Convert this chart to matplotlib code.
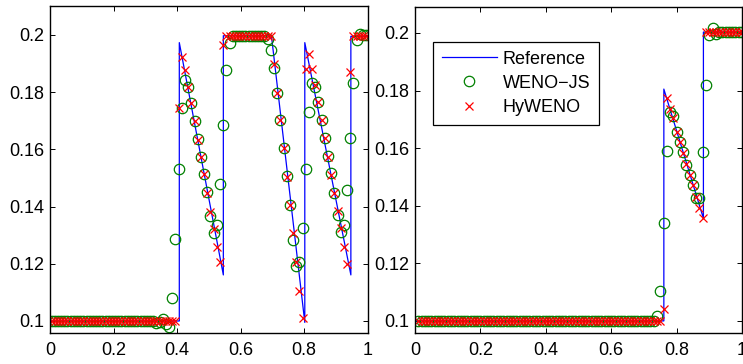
import numpy as np
import matplotlib
matplotlib.use('Agg')
import matplotlib.pyplot as plt

plt.rcParams['font.family'] = ['Liberation Sans', 'DejaVu Sans']
plt.rcParams['font.size'] = 13

# Painel esquerdo: pontos nas células x = 0.005 + 0.01 i
x_esq = 0.005 + 0.01 * np.arange(100)
ref_esq_x = [0, 0.407, 0.407, 0.5456, 0.5456, 0.697, 0.802, 0.802, 0.947, 0.947, 1.0]
ref_esq_y = [0.1, 0.1, 0.1973, 0.1161, 0.1997, 0.1997, 0.0995, 0.1973, 0.1161, 0.1995, 0.1995]

weno_esq = ([0.1] * 33 +
            [0.0994, 0.0997, 0.1006, 0.0988, 0.0978,
             0.1082, 0.1287, 0.1531, 0.1744, 0.1843, 0.1817, 0.1763, 0.1700, 0.1636,
             0.1574, 0.1514, 0.1450, 0.1367, 0.1307, 0.1336, 0.1479, 0.1685, 0.1878,
             0.1973] +
            [0.1997] * 11 +
            [0.1985, 0.1948, 0.1884, 0.1798, 0.1703, 0.1604, 0.1508, 0.1406, 0.1283,
             0.1192, 0.1205, 0.1324, 0.1530, 0.1732, 0.1831, 0.1817, 0.1767, 0.1703,
             0.1639, 0.1575, 0.1516, 0.1449, 0.1371, 0.1312, 0.1336, 0.1458, 0.1641,
             0.1833, 0.1983, 0.2002, 0.2, 0.2])

hy_esq = ([0.1] * 40 +
          [0.1744, 0.1924, 0.1878, 0.1819, 0.1763, 0.1700, 0.1633, 0.1574, 0.1513,
           0.1449, 0.1381, 0.1320, 0.1260, 0.1205, 0.1963] +
          [0.1997] * 15 +
          [0.1898, 0.1798, 0.1703, 0.1604, 0.1505, 0.1406, 0.1307, 0.1207, 0.1106,
           0.1009, 0.1880, 0.1933, 0.1880, 0.1825, 0.1767, 0.1703, 0.1639, 0.1574,
           0.1510, 0.1449, 0.1386, 0.1324, 0.1258, 0.1198, 0.1872] +
          [0.1997] * 5)

# Painel direito: pontos em x = 0.01 j
x_dir = 0.01 * np.arange(1, 101)
ref_dir_x = [0, 0.761, 0.761, 0.882, 0.882, 1.0]
ref_dir_y = [0.1, 0.1, 0.1805, 0.1356, 0.2003, 0.2003]

weno_dir = ([0.1] * 73 +
            [0.1017, 0.1104, 0.1341, 0.1591, 0.1727, 0.1713, 0.1657, 0.1620, 0.1585,
             0.1542, 0.1507, 0.1472, 0.1428, 0.1428, 0.1585, 0.1819, 0.1993, 0.2017,
             0.1995] +
            [0.2003] * 8)

hy_dir = ([0.1] * 75 +
          [0.1041, 0.1773, 0.1735, 0.1704, 0.1657, 0.1622, 0.1582, 0.1545, 0.1507,
           0.1472, 0.1429, 0.1393, 0.1357] +
          [0.2003] * 12)

fig = plt.figure(figsize=(7.43, 3.64), dpi=100)
ax1 = fig.add_axes([50 / 743, 1 - 333 / 364, 317.7 / 743, 327 / 364])
ax2 = fig.add_axes([415 / 743, 1 - 333 / 364, 327 / 743, 326 / 364])

verde = (0, 0.5, 0)
for ax, xr, yr, xp, yw, yh in [(ax1, ref_esq_x, ref_esq_y, x_esq, weno_esq, hy_esq),
                               (ax2, ref_dir_x, ref_dir_y, x_dir, weno_dir, hy_dir)]:
    ax.plot(xr, yr, '-', color='blue', lw=0.9, label='Reference')
    ax.plot(xp, yw, 'o', mfc='none', mec=verde, ms=7.5, mew=0.9, label='WENO\u2212JS')
    ax.plot(xp, yh, 'x', color='red', ms=5.5, mew=0.9, label='HyWENO')
    ax.set_xlim(0, 1)
    ax.set_xticks([0, 0.2, 0.4, 0.6, 0.8, 1])
    ax.set_xticklabels(['0', '0.2', '0.4', '0.6', '0.8', '1'])
    ax.set_yticks([0.1, 0.12, 0.14, 0.16, 0.18, 0.2])
    ax.set_yticklabels(['0.1', '0.12', '0.14', '0.16', '0.18', '0.2'])
    ax.tick_params(direction='in', top=True, right=True, length=3.5, width=0.7)
    ax.tick_params(axis='x', pad=6.5)
    ax.tick_params(axis='y', pad=4)
    for s in ax.spines.values():
        s.set_linewidth(1.0)

ax1.set_ylim(0.0958, 0.2101)
ax2.set_ylim(0.0958, 0.2090)

leg = ax2.legend(loc='upper left', bbox_to_anchor=(0.056, 0.894), borderaxespad=0,
                 fancybox=False, framealpha=1, edgecolor='black', numpoints=1,
                 handlelength=3.0, handletextpad=0.35, borderpad=0.5, labelspacing=0.4)
leg.get_frame().set_linewidth(0.9)

fig.savefig('out.png', dpi=100)
